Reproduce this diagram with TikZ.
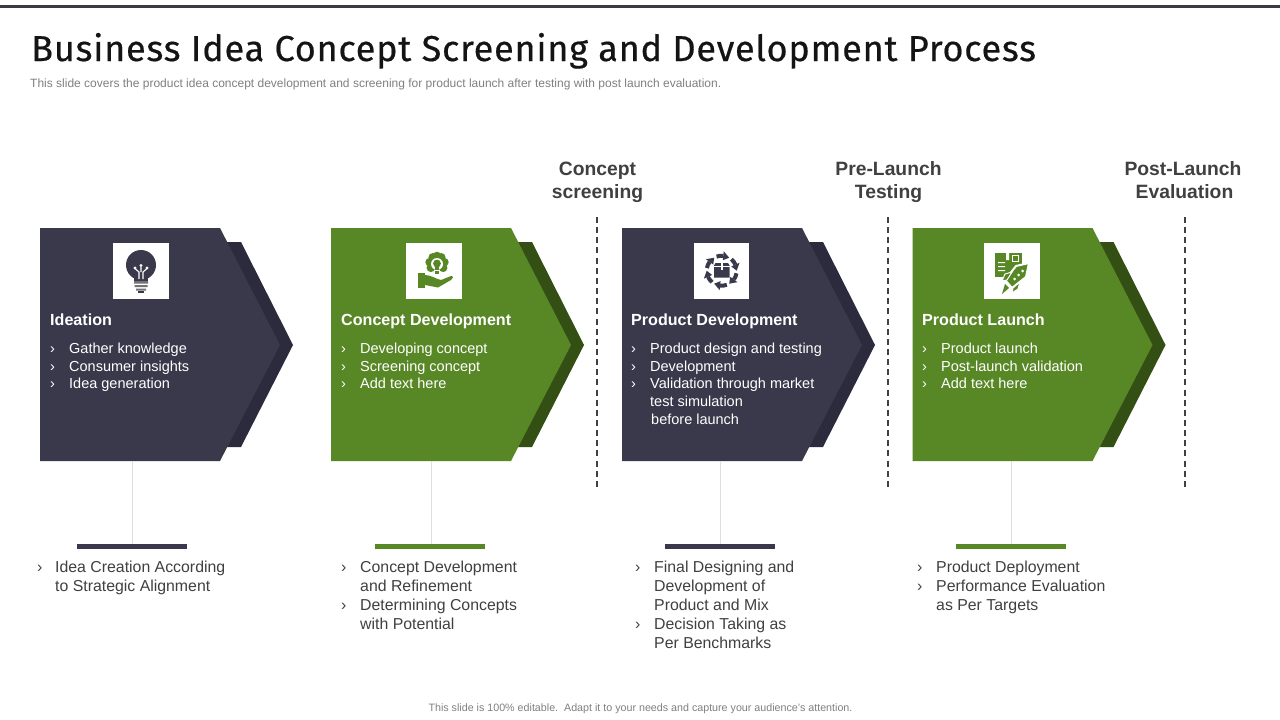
\documentclass[tikz,border=0pt]{standalone}
\usepackage{fontspec}
\setmainfont{Liberation Sans}
\newfontfamily\titlefont[LetterSpace=2.2,FakeBold=0.5]{Fira Sans}
\usetikzlibrary{arrows.meta}
\definecolor{navy}{HTML}{3A384B}
\definecolor{navyd}{HTML}{2C2B3D}
\definecolor{leaf}{HTML}{588726}
\definecolor{leafd}{HTML}{334F14}
\definecolor{ink}{HTML}{404040}
\definecolor{topbar}{HTML}{3B3A45}
\tikzset{
  x=1pt,y=-1pt,
  txt/.style={anchor=base west,inner sep=0pt,font=\fontsize{14.5}{15}\selectfont,text=white},
  head/.style={anchor=base west,inner sep=0pt,font=\fontsize{16.1}{16}\selectfont\bfseries,text=white},
  low/.style={anchor=base west,inner sep=0pt,font=\fontsize{15.85}{16}\selectfont,text=ink},
  phase/.style={anchor=base,inner sep=0pt,font=\fontsize{19.3}{23}\selectfont\bfseries,text=ink},
  iconbox/.style={fill=white,draw=none},
  divider/.style={draw=ink,line width=1.5pt,dash pattern=on 6pt off 4.15pt},
  stem/.style={draw=black!13,line width=.8pt},
  barnode/.style={anchor=north,inner sep=0pt,minimum width=110pt,minimum height=5pt}
}
\newcommand{\card}[3]{%
  \begin{scope}[xshift=#1pt]
    \fill[#3] (227,242) -- (241,242) -- (293,345) -- (241,447) -- (227,447) -- cycle;
    \fill[#2] (40,228) -- (220,228) -- (280,345) -- (220,461) -- (40,461) -- cycle;
  \end{scope}}
\begin{document}
\begin{tikzpicture}
\useasboundingbox (0,0) rectangle (1280,720);
\fill[white] (0,0) rectangle (1280,720);
\fill[topbar] (0,5) rectangle (1280,8);
\node[anchor=base west,inner sep=0pt,text=black!92] (title) at (31,61) {\fontsize{36}{36}\selectfont\titlefont Business Idea Concept Screening and Development Process};
\node[anchor=base west,inner sep=0pt,text=black!50] (sub) at (30,87) {\fontsize{12}{12}\selectfont This slide covers the product idea concept development and screening for product launch after testing with post launch evaluation.};
\node[anchor=base,inner sep=0pt,text=black!50] (foot) at (640.5,711.5) {\fontsize{10.7}{10}\selectfont This slide is 100\% editable.\ \ Adapt it to your needs and capture your audience's attention.};

\node[phase] (p1a) at (597.5,175) {Concept};
\node[phase] (p1b) at (597.5,198) {screening};
\node[phase] (p2a) at (888.5,175) {Pre-Launch};
\node[phase] (p2b) at (888.5,198) {Testing};
\node[phase] (p3a) at (1183,175) {Post-Launch};
\node[phase] (p3b) at (1184.5,198) {Evaluation};
\coordinate (d1a) at (597,217); \coordinate (d1b) at (597,487);
\coordinate (d2a) at (888,217); \coordinate (d2b) at (888,487);
\coordinate (d3a) at (1185,217); \coordinate (d3b) at (1185,487);
\draw[divider] (d1a) -- (d1b);
\draw[divider] (d2a) -- (d2b);
\draw[divider] (d3a) -- (d3b);

\card{0}{navy}{navyd}
\card{291}{leaf}{leafd}
\card{582}{navy}{navyd}
\card{872.5}{leaf}{leafd}

% icon 1: bulb
\fill[iconbox] (113,243) rectangle (169,299);
\fill[navy] (141,265) circle (15);
\fill[navy] (134,276) rectangle (148,282);
\fill[black!55] (134,281) rectangle (148,283.5) (134.5,285) rectangle (147.5,287) (136,288.5) rectangle (146,290.5);
\fill[navy] (138,291) rectangle (144,292.5);
\draw[white,line width=1.1pt] (139,279) -- (139,272) -- (135.5,269) (143,279) -- (143,272) -- (146.5,269) (141,272) -- (141,267);
\fill[white] (135,268) circle (1.7) (147,268) circle (1.7) (141,265.5) circle (1.7);

% icon 2: hand and brain bulb
\fill[iconbox] (406,243) rectangle (462,299);
\foreach \a in {-215,-170,-125,-90,-55,-10,35}{\fill[leaf] (437,263.5) ++(\a:7.5) circle (4.3);}
\fill[leaf] (437,263.5) circle (8);
\fill[white] (437,264) circle (6);
\fill[leaf] (437,263.5) circle (3.9);
\fill[leaf] (434.8,266) rectangle (439.2,273.5);
\fill[white] (434,270) rectangle (440,270.8);
\fill[leaf] (418,273) rectangle (425,288);
\fill[leaf] (425,275) .. controls (431,275) and (436,279) .. (441,280) -- (451,276) .. controls (454,276) and (453,279) .. (451,280) -- (438,287.5) -- (425,285) -- cycle;

% icon 3: box in arrows
\fill[iconbox] (694,243) rectangle (749,299);
\begin{scope}[shift={(721.7,270.7)}]
\foreach \a in {10,70,...,310}{%
  \draw[navy,line width=4pt] (\a:15) arc[start angle=\a,end angle=\a+26,radius=15];
  \fill[navy] (\a+26:19.5) -- (\a+50:15) -- (\a+26:10.5) -- cycle;}
\end{scope}
\fill[navy] (715.5,263) -- (728,263) -- (729.5,265.5) -- (729.5,277.5) -- (714,277.5) -- (714,265.5) -- cycle;
\fill[white] (720.5,263) rectangle (723,270);
\fill[white] (714,265.6) rectangle (729.5,266.3);

% icon 4: parcel and rocket
\fill[iconbox] (984,243) rectangle (1040,299);
\fill[leaf] (995,253) rectangle (1022,277);
\fill[white] (1006,252) rectangle (1009,260) (998,262) rectangle (1005,263) (998,266) rectangle (1005,267) (998,270) rectangle (1005,271);
\draw[white,line width=.9pt] (1012,255) rectangle (1018,261);
\draw[white,line width=2pt,fill=leaf,line join=round] (1029,263) -- (1016,266) -- (1005,280) -- (1012,288) -- (1026,277) -- cycle;
\draw[white,line width=1pt,fill=leaf] (1005,274) -- (1012,272) -- (1007,280) -- (1002,281) -- cycle;
\draw[white,line width=1pt,fill=leaf] (1013,288) -- (1020,282) -- (1018,289) -- (1012,293) -- cycle;
\fill[leaf] (1005,284) -- (1009,288) -- (1002,294) -- cycle;
\fill[white] (1014.5,279) circle (1.5) (1018.5,275) circle (1.5) (1022.5,271) circle (1.5);

% card texts
\node[head] (h1) at (50,325.6) {Ideation};
\node[txt] (a1) at (50,353) {›}; \node[txt] (t11) at (69,353) {Gather knowledge};
\node[txt] (a2) at (50,371) {›}; \node[txt] (t12) at (69,371) {Consumer insights};
\node[txt] (a3) at (50,388.5) {›}; \node[txt] (t13) at (69,388.5) {Idea generation};

\node[head] (h2) at (341,325.6) {Concept Development};
\node[txt] (b1) at (341,353) {›}; \node[txt] (t21) at (360,353) {Developing concept};
\node[txt] (b2) at (341,371) {›}; \node[txt] (t22) at (360,371) {Screening concept};
\node[txt] (b3) at (341,388.5) {›}; \node[txt] (t23) at (360,388.5) {Add text here};

\node[head] (h3) at (631,325.6) {Product Development};
\node[txt] (c1) at (631,353) {›}; \node[txt] (t31) at (650,353) {Product design and testing};
\node[txt] (c2) at (631,371) {›}; \node[txt] (t32) at (650,371) {Development};
\node[txt] (c3) at (631,388.5) {›}; \node[txt] (t33) at (650,388.5) {Validation through market};
\node[txt] (t34) at (650,406) {test simulation};
\node[txt] (t35) at (651,424) {before launch};

\node[head] (h4) at (922,325.6) {Product Launch};
\node[txt] (e1) at (922,353) {›}; \node[txt] (t41) at (941,353) {Product launch};
\node[txt] (e2) at (922,371) {›}; \node[txt] (t42) at (941,371) {Post-launch validation};
\node[txt] (e3) at (922,388.5) {›}; \node[txt] (t43) at (941,388.5) {Add text here};

% stems and bars
\node[barnode,fill=navy] (bar1) at (132,544) {};
\node[barnode,fill=leaf] (bar2) at (429.5,544) {};
\node[barnode,fill=navy] (bar3) at (720,544) {};
\node[barnode,fill=leaf] (bar4) at (1011,544) {};
\coordinate (s1) at (132,461); \coordinate (s2) at (431,461); \coordinate (s3) at (720,461); \coordinate (s4) at (1011,461);
\draw[stem] (s1) -- (s1 |- bar1.north);
\draw[stem] (s2) -- (s2 |- bar2.north);
\draw[stem] (s3) -- (s3 |- bar3.north);
\draw[stem] (s4) -- (s4 |- bar4.north);

% lower texts
\node[low] (l1) at (37,572.4) {›}; \node[low] (l11) at (55,572.4) {Idea Creation According};
\node[low] (l12) at (55,591.4) {to Strategic Alignment};

\node[low] (m1) at (341,572.4) {›}; \node[low] (m11) at (360,572.4) {Concept Development};
\node[low] (m12) at (360,591.4) {and Refinement};
\node[low] (m2) at (341,610.4) {›}; \node[low] (m13) at (360,610.4) {Determining Concepts};
\node[low] (m14) at (360,629.4) {with Potential};

\node[low] (n1) at (635,572.4) {›}; \node[low] (n11) at (654,572.4) {Final Designing and};
\node[low] (n12) at (654,591.4) {Development of};
\node[low] (n13) at (654,610.4) {Product and Mix};
\node[low] (n2) at (635,629.4) {›}; \node[low] (n14) at (654,629.4) {Decision Taking as};
\node[low] (n15) at (654,648.4) {Per Benchmarks};

\node[low] (o1) at (917,572.4) {›}; \node[low] (o11) at (936,572.4) {Product Deployment};
\node[low] (o2) at (917,591.4) {›}; \node[low] (o12) at (936,591.4) {Performance Evaluation};
\node[low] (o13) at (936,610.4) {as Per Targets};
\end{tikzpicture}
\end{document}
